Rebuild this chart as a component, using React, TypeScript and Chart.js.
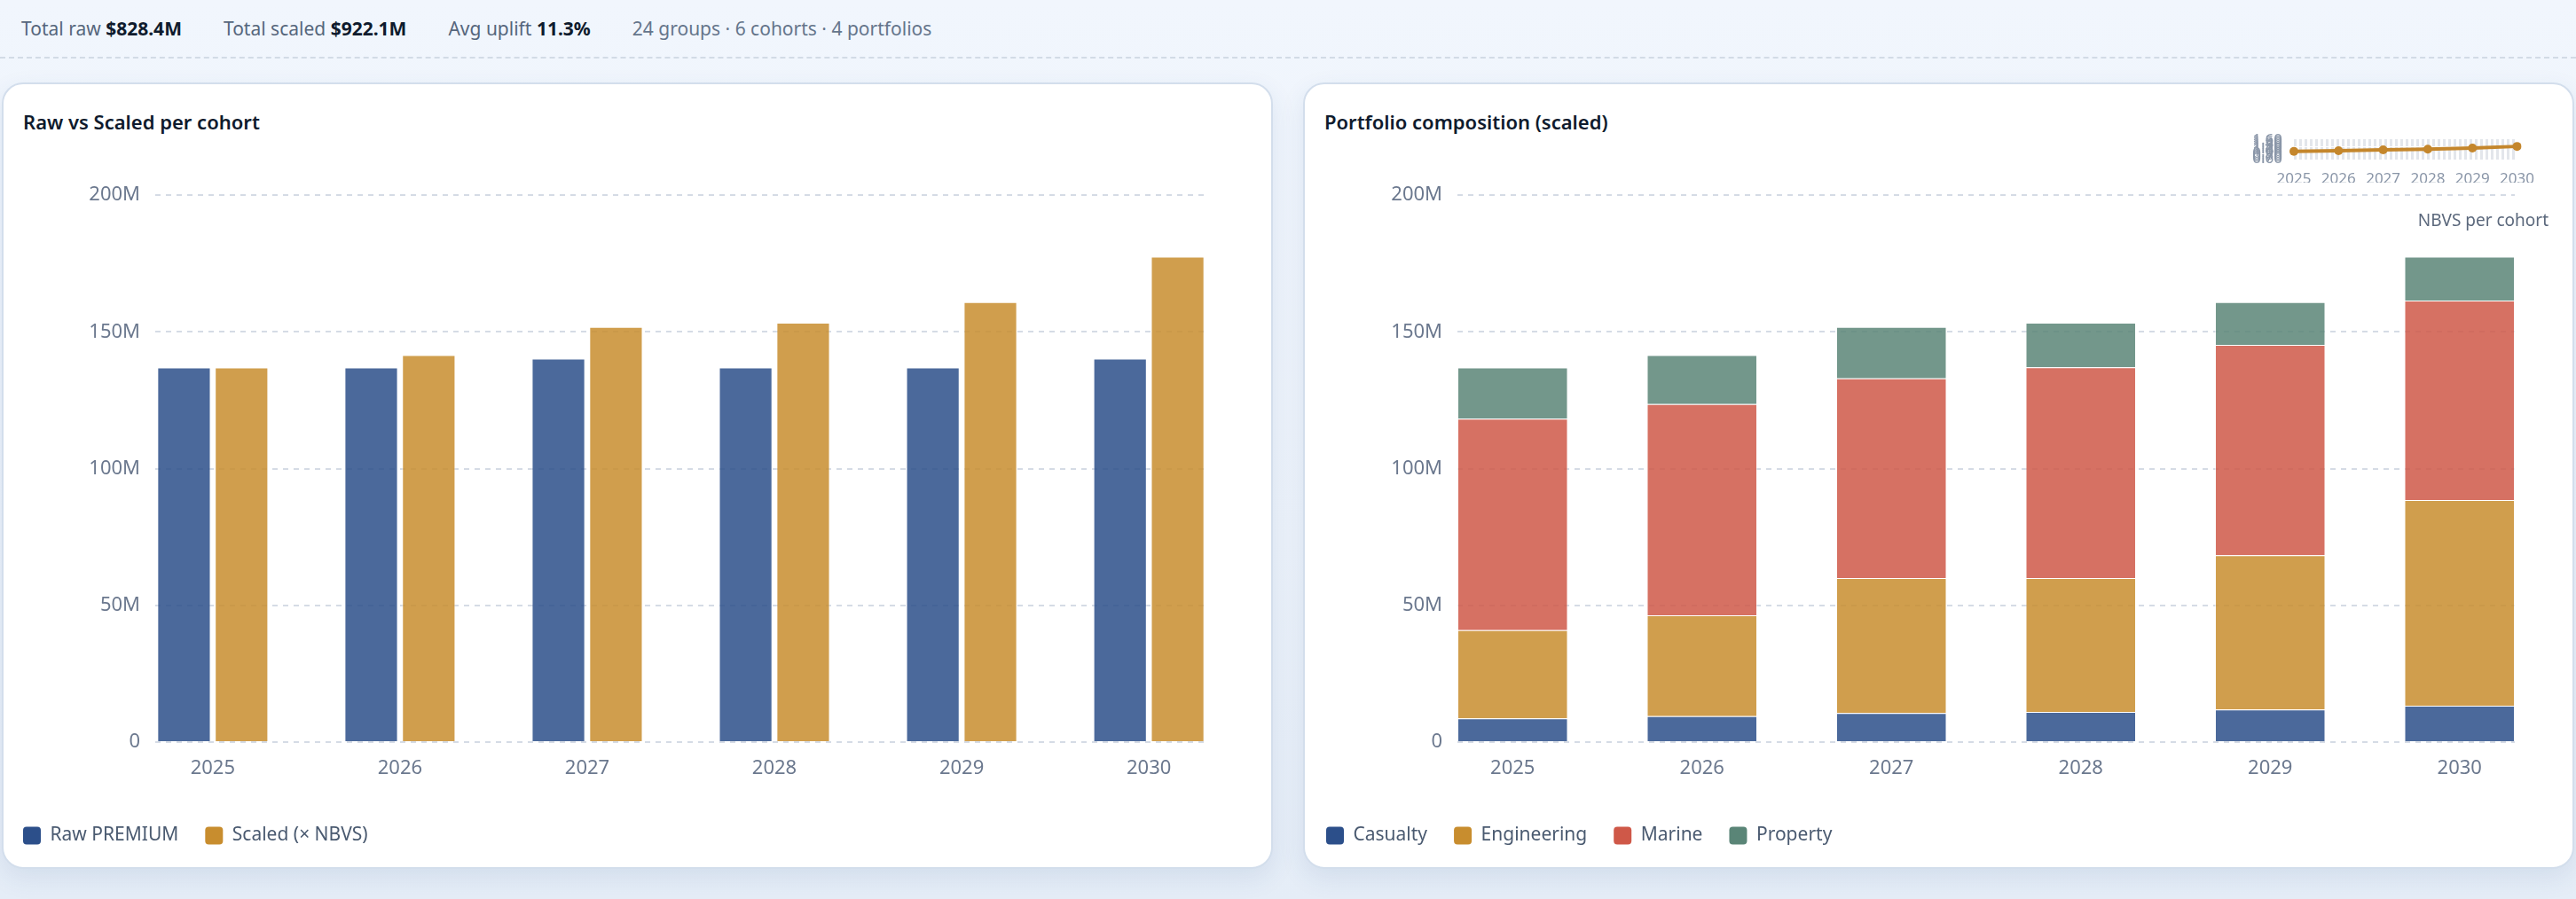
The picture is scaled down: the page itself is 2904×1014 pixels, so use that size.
import React, { useEffect, useRef } from 'react';
import { Chart, registerables } from 'chart.js';

Chart.register(...registerables);

// ---------------- data ----------------
const COHORTS = ['2025', '2026', '2027', '2028', '2029', '2030'];
const RAW_PREMIUM = [137.0, 137.0, 140.2, 137.0, 137.0, 140.2]; // $M
const SCALED_PREMIUM = [137.0, 141.5, 151.8, 153.4, 160.9, 177.5]; // $M

const PORTFOLIOS = ['Casualty', 'Engineering', 'Marine', 'Property'];
const CASUALTY = [8.7, 9.5, 10.6, 11.0, 11.9, 13.3];
const ENGINEERING = [32.2, 36.9, 49.4, 49.0, 56.4, 75.2];
const MARINE = [77.4, 77.2, 73.0, 77.1, 77.0, 73.0];
const PROPERTY = [18.7, 17.9, 18.8, 16.3, 15.6, 16.0];

const NBVS = [1.0, 1.033, 1.083, 1.12, 1.175, 1.267];

const Y_MAX = 200;
const Y_STEP = 50;
const SPARK_MIN = 0.6;
const SPARK_MAX = 1.6;
const SPARK_STEP = 0.1;

const STATS = [
  { label: 'Total raw', value: '$828.4M' },
  { label: 'Total scaled', value: '$922.1M' },
  { label: 'Avg uplift', value: '11.3%' },
];
const STATS_NOTE = '24 groups · 6 cohorts · 4 portfolios';

// ---------------- style ----------------
const FONT = "'Segoe UI', 'Noto Sans', 'Open Sans', sans-serif";
const TICK_COLOR = '#6b788e';
const GRID_COLOR = '#d5dbe5';
const LEGEND_TEXT = '#4a5a70';

const BLUE = '#2c4f8a';
const GOLD = '#c88d2e';
const RED = '#cf5848';
const GREEN = '#5a8577';
const alpha = (hex: string, a: number) => {
  const n = parseInt(hex.slice(1), 16);
  return `rgba(${(n >> 16) & 255},${(n >> 8) & 255},${n & 255},${a})`;
};

Chart.defaults.font.family = FONT;

function legendLabels(colors: string[]) {
  return (chart: any) =>
    chart.data.datasets.map((ds: any, i: number) => ({
      text: ds.label,
      fillStyle: colors[i],
      strokeStyle: colors[i],
      lineWidth: 0,
      hidden: false,
      datasetIndex: i,
      borderRadius: 4,
      fontColor: LEGEND_TEXT,
    }));
}

function baseScales(groupHalf: number, yWidth: number) {
  return {
    x: {
      type: 'linear' as const,
      min: -groupHalf,
      max: COHORTS.length - 1 + groupHalf,
      offset: false,
      grid: { display: false, drawTicks: false, offset: false },
      border: { display: false },
      ticks: {
        stepSize: 1,
        includeBounds: false,
        autoSkip: false,
        maxRotation: 0,
        padding: 17,
        color: TICK_COLOR,
        font: { size: 22 },
        callback: (v: any) => COHORTS[v] ?? '',
      },
      afterFit: (s: any) => {
        s.height = 65;
      },
    },
    y: {
      min: 0,
      max: Y_MAX,
      ticks: {
        stepSize: Y_STEP,
        padding: 17,
        color: TICK_COLOR,
        font: { size: 22 },
        callback: (v: any) => (v === 0 ? '0' : `${v}M`),
      },
      grid: { color: GRID_COLOR, lineWidth: 2, drawTicks: false },
      border: { display: false, dash: [6, 6] },
      afterFit: (s: any) => {
        s.width = yWidth;
      },
    },
  };
}

const legendOpts = (colors: string[]) => ({
  position: 'bottom' as const,
  align: 'start' as const,
  labels: {
    boxWidth: 20,
    boxHeight: 20,
    padding: 30,
    useBorderRadius: true,
    borderRadius: 4,
    color: LEGEND_TEXT,
    font: { size: 21 },
    generateLabels: legendLabels(colors),
  },
});

const toPoints = (arr: number[]) => arr.map((v, i) => ({ x: i, y: v }));

function ChartCanvas({ config, left, top, width, height }: any) {
  const ref = useRef<HTMLCanvasElement>(null);
  useEffect(() => {
    if (!ref.current) return;
    const chart = new Chart(ref.current, config);
    return () => chart.destroy();
  }, []);
  return (
    <canvas
      ref={ref}
      width={width}
      height={height}
      style={{ position: 'absolute', left, top, width, height, zIndex: 2 }}
    />
  );
}

const LEFT_HALF = 0.3073;
const RIGHT_HALF = 0.2916;

const rawConfig: any = {
  type: 'bar',
  data: {
    datasets: [
      {
        label: 'Raw PREMIUM',
        data: toPoints(RAW_PREMIUM),
        backgroundColor: alpha(BLUE, 0.85),
        borderColor: 'rgba(255,255,255,0.5)',
        borderWidth: 1,
        categoryPercentage: LEFT_HALF * 2,
        barPercentage: 0.928,
      },
      {
        label: 'Scaled (× NBVS)',
        data: toPoints(SCALED_PREMIUM),
        backgroundColor: alpha(GOLD, 0.85),
        borderColor: 'rgba(255,255,255,0.5)',
        borderWidth: 1,
        categoryPercentage: LEFT_HALF * 2,
        barPercentage: 0.928,
      },
    ],
  },
  options: {
    responsive: false,
    animation: false,
    layout: { padding: { top: 29, right: 72, bottom: 27, left: 0 } },
    scales: baseScales(LEFT_HALF, 179),
    plugins: { legend: legendOpts([BLUE, GOLD]), tooltip: { enabled: false } },
  },
};

const portfolioSeries = [CASUALTY, ENGINEERING, MARINE, PROPERTY];
const portfolioColors = [BLUE, GOLD, RED, GREEN];

const stackScales: any = baseScales(RIGHT_HALF, 178);
stackScales.x.stacked = true;
stackScales.y.stacked = true;

const stackConfig: any = {
  type: 'bar',
  data: {
    datasets: PORTFOLIOS.map((name, i) => ({
      label: name,
      data: toPoints(portfolioSeries[i]),
      backgroundColor: alpha(portfolioColors[i], 0.85),
      borderColor: 'rgba(255,255,255,0.55)',
      borderWidth: 1,
      categoryPercentage: RIGHT_HALF * 2,
      barPercentage: 1,
    })),
  },
  options: {
    responsive: false,
    animation: false,
    layout: { padding: { top: 29, right: 66, bottom: 27, left: 0 } },
    scales: stackScales,
    plugins: { legend: legendOpts(portfolioColors), tooltip: { enabled: false } },
  },
};

const sparkConfig: any = {
  type: 'line',
  data: {
    labels: COHORTS,
    datasets: [
      {
        label: 'NBVS',
        data: NBVS,
        borderColor: '#c4862c',
        backgroundColor: '#c4862c',
        borderWidth: 4,
        pointRadius: 5,
        pointBorderWidth: 0,
        pointBackgroundColor: '#c4862c',
        tension: 0,
      },
    ],
  },
  options: {
    responsive: false,
    animation: false,
    layout: { padding: { top: 17, right: 28, bottom: 4, left: 0 } },
    scales: {
      x: {
        grid: { display: false, drawTicks: false },
        border: { display: false },
        ticks: { padding: 13, color: '#8a96a8', font: { size: 17 }, maxRotation: 0, autoSkip: false },
      },
      y: {
        min: SPARK_MIN,
        max: SPARK_MAX,
        ticks: {
          stepSize: SPARK_STEP,
          autoSkip: false,
          padding: 13,
          color: '#8a96a8',
          font: { size: 17 },
          callback: (v: any) => Number(v).toFixed(2),
        },
        grid: { color: '#e3e6eb', lineWidth: 2, drawTicks: false },
        border: { display: false, dash: [3, 3] },
        afterFit: (s: any) => {
          s.width = 66;
        },
      },
    },
    plugins: { legend: { display: false }, tooltip: { enabled: false } },
  },
};

const cardStyle = (left: number): React.CSSProperties => ({
  position: 'absolute',
  left,
  top: 93,
  width: 1433,
  height: 887,
  boxSizing: 'border-box',
  background: '#ffffff',
  border: '2px solid #d3deec',
  borderRadius: 24,
  boxShadow: '0 10px 28px rgba(40,80,140,0.10)',
  zIndex: 1,
});

const titleStyle = (left: number): React.CSSProperties => ({
  position: 'absolute',
  left,
  top: 121,
  lineHeight: '32px',
  fontSize: 22,
  fontWeight: 600,
  color: '#0f1b2d',
  zIndex: 3,
  whiteSpace: 'nowrap',
});

export default function App() {
  return (
    <div
      style={{
        position: 'absolute',
        left: 0,
        top: 0,
        width: 2904,
        height: 1014,
        overflow: 'hidden',
        fontFamily: FONT,
        background: 'linear-gradient(180deg, #f1f6fd 0%, #ecf2fa 60%, #e5edf7 100%)',
      }}
    >
      <div
        style={{
          position: 'absolute',
          left: 0,
          top: 0,
          width: 2904,
          height: 66,
          borderBottom: '2px dashed #d2dbe6',
          display: 'flex',
          alignItems: 'center',
          paddingLeft: 24,
          boxSizing: 'border-box',
          gap: 47,
          fontSize: 21,
          color: '#56667c',
          whiteSpace: 'nowrap',
        }}
      >
        {STATS.map((s) => (
          <span key={s.label}>
            {s.label} <b style={{ color: '#0f1b2d', fontWeight: 700 }}>{s.value}</b>
          </span>
        ))}
        <span style={{ color: '#65758b' }}>{STATS_NOTE}</span>
      </div>

      <div style={cardStyle(2)} />
      <div style={cardStyle(1469)} />

      <div style={titleStyle(26)}>Raw vs Scaled per cohort</div>
      <div style={titleStyle(1493)}>Portfolio composition (scaled)</div>

      <ChartCanvas config={rawConfig} left={-4} top={190} width={1436} height={800} />
      <ChartCanvas config={stackConfig} left={1465} top={190} width={1436} height={800} />
      <ChartCanvas config={sparkConfig} left={2520} top={135} width={350} height={75} />

      <div
        style={{
          position: 'absolute',
          right: 2904 - 2873,
          top: 236,
          lineHeight: '24px',
          fontSize: 19,
          color: '#5b687c',
          zIndex: 3,
          whiteSpace: 'nowrap',
        }}
      >
        NBVS per cohort
      </div>
    </div>
  );
}
